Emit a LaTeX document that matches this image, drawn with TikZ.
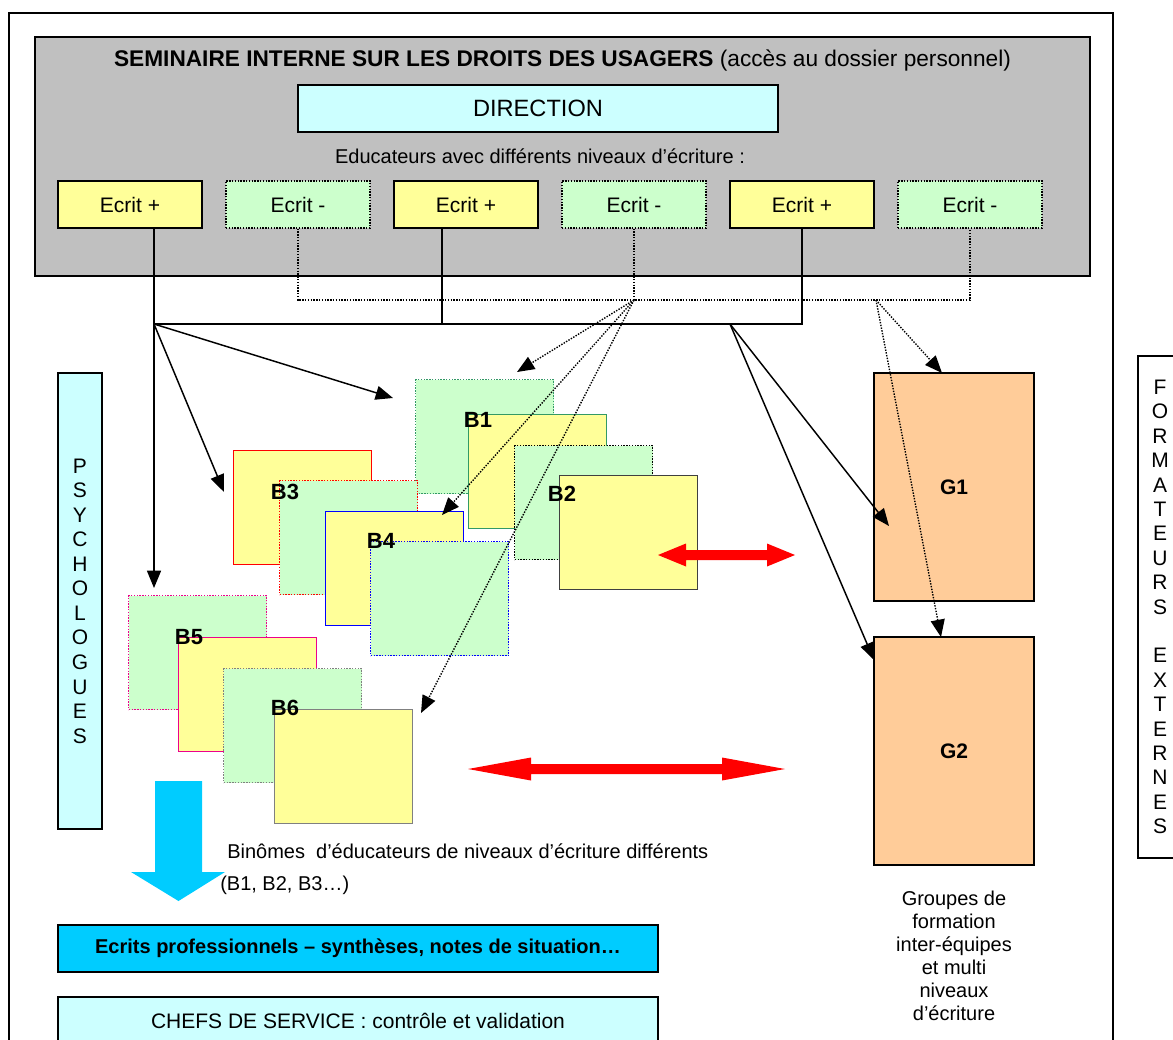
\documentclass[tikz,border=0pt]{standalone}
\usepackage{fontspec}
\setmainfont{Liberation Sans}
\usetikzlibrary{arrows.meta,calc}
\definecolor{grayfill}{HTML}{C0C0C0}
\definecolor{lcyan}{HTML}{CCFFFF}
\definecolor{lyellow}{HTML}{FFFF99}
\definecolor{lgreen}{HTML}{CCFFCC}
\definecolor{peach}{HTML}{FFCC99}
\definecolor{dcyan}{HTML}{00CCFF}
\definecolor{seag}{HTML}{339966}
\newcommand{\fEc}{\fontsize{15.75}{18}\selectfont}
\newcommand{\fTx}{\fontsize{15}{17.25}\selectfont}
\begin{document}
\begin{tikzpicture}[x=0.75pt,y=-0.75pt,
  box/.style={draw, line width=1.1pt, inner sep=0pt},
  dotline/.style={dash pattern=on 1.05pt off 1.05pt},
  ecritp/.style={box, fill=lyellow, minimum width=108pt, minimum height=35.25pt, font=\fEc},
  ecritm/.style={draw, dotline, line width=1pt, inner sep=0pt, fill=lgreen, minimum width=108pt, minimum height=35.25pt, font=\fEc},
  bsq/.style={minimum width=103.5pt, minimum height=85.5pt, anchor=north west, inner sep=0pt, line width=1.1pt},
  yb/.style={bsq, draw, fill=lyellow},
  gb/.style={bsq, draw, dotline, fill=lgreen},
  blab/.style={font=\bfseries\fontsize{16.5}{19}\selectfont, inner sep=0pt},
  conn/.style={line width=1.1pt},
  dconn/.style={line width=1.05pt, dotline},
  tip/.style={-{Triangle[length=13pt,width=10.5pt]}},
]
\useasboundingbox (0,0) rectangle (1173,1039);
\clip (0,0) rectangle (1173,1039);

% outer frame
\draw[line width=1.1pt] (9,1050) -- (9,13) -- (1113,13) -- (1113,1050);

% seminar box
\node[box, fill=grayfill, minimum width=791.25pt, minimum height=179.25pt] (sem) at (562.5,156.5) {};
\node[font=\fontsize{17}{20}\selectfont] (title) at (562.5,61) {\textbf{SEMINAIRE INTERNE SUR LES DROITS DES USAGERS} (accès au dossier personnel)};
\node[box, fill=lcyan, minimum width=360pt, minimum height=35.25pt, font=\fontsize{17.7}{20}\selectfont] (dir) at (538,108.5) {DIRECTION};
\node[font=\fTx] (edu) at (540,156) {Educateurs avec différents niveaux d’écriture :};
\node[ecritp] (e1) at (130,204.5) {Ecrit +};
\node[ecritm] (e2) at (298,204.5) {Ecrit -};
\node[ecritp] (e3) at (466,204.5) {Ecrit +};
\node[ecritm] (e4) at (634,204.5) {Ecrit -};
\node[ecritp] (e5) at (802,204.5) {Ecrit +};
\node[ecritm] (e6) at (970,204.5) {Ecrit -};

% binome boxes
\node[gb, draw=seag] (b1g) at (415,379) {};
\node[yb, draw=seag] (b1y) at (468,414) {};
\node[gb, draw=black] (b2g) at (514,445) {};
\node[yb, draw=black!75] (b2y) at (559,475) {};
\node[yb, draw=red] (b3y) at (233,450) {};
\node[gb, draw=red] (b3g) at (279,480) {};
\node[yb, draw=blue] (b4y) at (325,511) {};
\node[gb, draw=blue] (b4g) at (370,541) {};
\node[gb, draw=magenta] (b5g) at (128,595) {};
\node[yb, draw=magenta] (b5y) at (178,637) {};
\node[gb, draw=gray] (b6g) at (223,668) {};
\node[yb, draw=gray] (b6y) at (274,709) {};
\node[blab] (l1) at (478,420) {B1};
\node[blab] (l2) at (562,494) {B2};
\node[blab] (l3) at (285,492) {B3};
\node[blab] (l4) at (381,541) {B4};
\node[blab] (l5) at (189,637) {B5};
\node[blab] (l6) at (285,708) {B6};

% groups
\node[box, fill=peach, minimum width=120pt, minimum height=171pt, font=\bfseries\fEc] (g1) at (954,487) {G1};
\node[box, fill=peach, minimum width=120pt, minimum height=171pt, font=\bfseries\fEc] (g2) at (954,751) {G2};

% side boxes
\node[box, fill=lcyan, minimum width=33pt, minimum height=342pt, align=center, font=\fontsize{15.75}{18.4}\selectfont] (psy) at (80,601) {P\\S\\Y\\C\\H\\O\\L\\O\\G\\U\\E\\S};
\node[box, minimum width=33pt, minimum height=376.5pt, align=center, font=\fontsize{15.75}{18.3}\selectfont] (form) at (1160,607) {F\\O\\R\\M\\A\\T\\E\\U\\R\\S\\\mbox{}\\E\\X\\T\\E\\R\\N\\E\\S};

% coordinates
\coordinate (hubL) at (154,324);
\coordinate (hubM) at (442,324);
\coordinate (hubE) at (802,324);
\coordinate (hubR) at (730,324);
\coordinate (d2) at (298,300);
\coordinate (d6) at (970,300);
\coordinate (dotC) at (634,300);
\coordinate (dotR) at (876,300);
\coordinate (tB1) at (393,398);
\coordinate (tB3) at (224,492);
\coordinate (tB5) at (154,588);
\coordinate (tG1) at (889,526);
\coordinate (tG2) at (874,660);
\coordinate (dB1) at (517,372);
\coordinate (dB4) at (442,515);
\coordinate (dB6) at (421,713);
\coordinate (dG1) at (942,373);
\coordinate (dG2) at (941,637);

% solid network
\draw[conn] ([xshift=18pt]e1.south) -- (hubL);
\draw[conn] ([xshift=-18pt]e3.south) -- (hubM);
\draw[conn] (e5.south) -- (hubE) -- (hubL);
\draw[conn,tip] (hubL) -- (tB1);
\draw[conn,tip] (hubL) -- (tB3);
\draw[conn,tip] (hubL) -- (tB5);
\draw[conn,tip] (hubR) -- (tG1);
\draw[conn,tip] (hubR) -- (tG2);

% dotted network
\draw[dconn] (e2.south) -- (d2) -- (d6) -- (e6.south);
\draw[dconn] (e4.south) -- (dotC);
\draw[dconn,tip] (dotC) -- (dB1);
\draw[dconn,tip] (dotC) -- (dB4);
\draw[dconn,tip] (dotC) -- (dB6);
\draw[dconn,tip] (dotR) -- (dG1);
\draw[dconn,tip] (dotR) -- (dG2);

% red double arrows
\fill[red] (658,555) -- (686,543.5) -- (686,550) -- (767,550) -- (767,543.5) -- (795,555)
  -- (767,566.5) -- (767,560) -- (686,560) -- (686,566.5) -- cycle;
\fill[red] (468,769) -- (531,757.5) -- (531,764) -- (722,764) -- (722,757.5) -- (785,769)
  -- (722,780.5) -- (722,774) -- (531,774) -- (531,780.5) -- cycle;

% cyan down arrow
\fill[dcyan] (155,781) -- (202,781) -- (202,872) -- (225,872) -- (178.5,901) -- (131,872) -- (155,872) -- cycle;

% texts
\node[font=\fTx, anchor=west, inner sep=0pt] (bin) at (227,851) {Binômes\ \ d’éducateurs de niveaux d’écriture différents};
\node[font=\fTx, anchor=west, inner sep=0pt] (bin2) at (220,885) {(B1, B2, B3…)};
\node[font=\fTx, align=center] (grp) at (954,955.5) {Groupes de\\formation\\inter-équipes\\et multi\\niveaux\\d’écriture};

% bottom boxes
\node[box, fill=dcyan, minimum width=450pt, minimum height=35.25pt, font=\bfseries\fTx] (ecr) at (358,948.5) {Ecrits professionnels – synthèses, notes de situation…};
\node[box, fill=lcyan, minimum width=450pt, minimum height=35.25pt, font=\fEc] (chef) at (358,1020.5) {CHEFS DE SERVICE : contrôle et validation};
\end{tikzpicture}
\end{document}
